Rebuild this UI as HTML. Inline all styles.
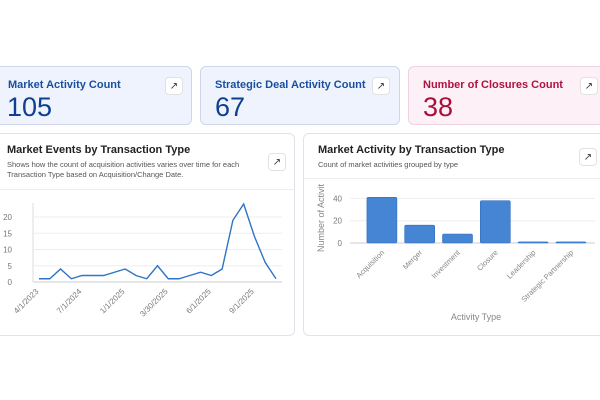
<!DOCTYPE html>
<html><head><meta charset="utf-8"><style>
body{margin:0;width:600px;height:400px;background:#fff;font-family:"Segoe UI","Liberation Sans",sans-serif;overflow:hidden;position:relative}
.card{position:absolute;border:1px solid #dfe3ea;border-radius:6px;box-sizing:border-box}
.kpi-title{position:absolute;top:12px;font-size:11px;font-weight:600}
.kpi-val{position:absolute;top:24px;font-size:27px;line-height:32px}
.btn{position:absolute;width:18px;height:18px;border:1px solid #e2e2e2;border-radius:4px;background:#fff;font-size:10px;text-align:center;line-height:18px;color:#333;box-sizing:border-box}
.ct{position:absolute;font-size:11px;font-weight:700;color:#222}
.cs{position:absolute;font-size:7.5px;color:#555;line-height:9.5px}
</style></head><body>
<div class="card" style="left:-8px;top:66px;width:200px;height:59px;background:#eef3fd;border-color:#cfd6ea">
 <div class="kpi-title" style="left:15px;color:#1a4fa0">Market Activity Count</div>
 <div class="kpi-val" style="left:14px;color:#0f3f91">105</div>
 <div class="btn" style="left:172px;top:10px">↗</div>
</div>
<div class="card" style="left:200px;top:66px;width:200px;height:59px;background:#eef3fd;border-color:#cfd6ea">
 <div class="kpi-title" style="left:14px;color:#1a4fa0">Strategic Deal Activity Count</div>
 <div class="kpi-val" style="left:14px;color:#0f3f91">67</div>
 <div class="btn" style="left:171px;top:10px">↗</div>
</div>
<div class="card" style="left:408px;top:66px;width:200px;height:59px;background:#fdf0f6;border-color:#ecd3df">
 <div class="kpi-title" style="left:14px;color:#b0123f">Number of Closures Count</div>
 <div class="kpi-val" style="left:14px;color:#a8103a">38</div>
 <div class="btn" style="left:171px;top:10px">↗</div>
</div>

<div class="card" style="left:-8px;top:133px;width:303px;height:203px">
 <div class="ct" style="left:14px;top:10px">Market Events by Transaction Type</div>
 <div class="cs" style="left:14px;top:26px;width:255px">Shows how the count of acquisition activities varies over time for each Transaction Type based on Acquisition/Change Date.</div>
 <div class="btn" style="left:275px;top:19px">↗</div>
 <div style="position:absolute;left:0;right:0;top:55px;border-top:1px solid #eee"></div>
</div>
<div class="card" style="left:303px;top:133px;width:310px;height:203px">
 <div class="ct" style="left:14px;top:10px">Market Activity by Transaction Type</div>
 <div class="cs" style="left:14px;top:26px">Count of market activities grouped by type</div>
 <div class="btn" style="left:275px;top:14px">↗</div>
 <div style="position:absolute;left:0;right:0;top:44px;border-top:1px solid #eee"></div>
</div>

<svg id="svg" width="600" height="400" style="position:absolute;left:0;top:0" font-family="Segoe UI, Liberation Sans, sans-serif"></svg>
<script>
const lineVals=[1,1,4,1,2,2,2,3,4,2,1,5,1,1,2,3,2,4,19,24,14,6,1];
const lineLabels=["4/1/2023","7/1/2024","1/1/2025","3/30/2025","6/1/2025","9/1/2025"];
const lineLabelIdx=[0,4,8,12,16,20];
const lineTicks=[0,5,10,15,20];
const barCats=["Acquisition","Merger","Investment","Closure","Leadership","Strategic Partnership"];
const barVals=[41,16,8,38,1,1];
const barTicks=[0,20,40];

const svg=document.getElementById('svg');
const NS='http://www.w3.org/2000/svg';
function mk(t,a,txt){const e=document.createElementNS(NS,t);for(const k in a)e.setAttribute(k,a[k]);if(txt!=null)e.textContent=txt;svg.appendChild(e);return e;}

const lx=i=>39+i*(276-39)/(lineVals.length-1);
const ly=v=>282-v*3.25;
mk('line',{x1:33,y1:203,x2:33,y2:282,stroke:'#ddd'});
lineTicks.forEach(t=>{
 const g=mk('line',{x1:33,x2:282,y1:ly(t),y2:ly(t),stroke:t===0?'#ccc':'#eee'});
 
 const l=mk('text',{x:12,y:ly(t)+3,'font-size':8,fill:'#777','text-anchor':'end'},t);
 
});
const pl=mk('polyline',{points:lineVals.map((v,i)=>lx(i)+','+ly(v)).join(' '),fill:'none',stroke:'#2f74c8','stroke-width':1.4});


lineLabels.forEach((s,k)=>{
 const x=lx(lineLabelIdx[k]),y=292;
 const t=mk('text',{x:x,y:y,'font-size':8,fill:'#777','text-anchor':'end',transform:`rotate(-45 ${x} ${y})`},s);
 
});

const bx0=363,step=37.8,bw=30;
const by=v=>243-v*22.3/20;
barTicks.forEach(t=>{
 const g=mk('line',{x1:350,x2:595,y1:by(t),y2:by(t),stroke:t===0?'#ccc':'#eee'});
 
 const l=mk('text',{x:342,y:by(t)+3,'font-size':8,fill:'#777','text-anchor':'end'},t);
 
});
barCats.forEach((c,i)=>{
 const cx=bx0+step*i+step/2;
 const r=mk('rect',{x:cx-bw/2,y:by(barVals[i]),width:bw,height:243-by(barVals[i]),fill:'#4684d4',stroke:'#2f6fc0','stroke-width':0.6,rx:1.5});
 
 
 const y=253;
 const t=mk('text',{x:cx+3,y:y,'font-size':7.5,fill:'#888','text-anchor':'end',transform:`rotate(-45 ${cx+3} ${y})`},c);
 
});
const yt=mk('text',{x:324,y:218,'font-size':9,fill:'#888','text-anchor':'middle',transform:'rotate(-90 324 218)'},'Number of Activit');

const xt=mk('text',{x:476,y:320,'font-size':9,fill:'#888','text-anchor':'middle'},'Activity Type');

</script>
</body></html>
